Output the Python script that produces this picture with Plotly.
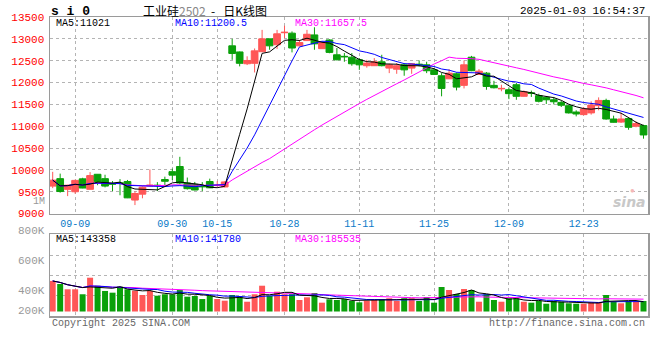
import plotly.graph_objects as go
import pandas as pd

dates = ["09-04", "09-05", "09-06", "09-09", "09-10", "09-11", "09-12", "09-13",
         "09-18", "09-19", "09-20", "09-23", "09-24", "09-25", "09-26", "09-27",
         "09-30", "10-08", "10-09", "10-10", "10-11", "10-14", "10-15", "10-16",
         "10-17", "10-18", "10-21", "10-22", "10-23", "10-24", "10-25", "10-28",
         "10-29", "10-30", "10-31", "11-01", "11-04", "11-05", "11-06", "11-07",
         "11-08", "11-11", "11-12", "11-13", "11-14", "11-15", "11-18", "11-19",
         "11-20", "11-21", "11-22", "11-25", "11-26", "11-27", "11-28", "11-29",
         "12-02", "12-03", "12-04", "12-05", "12-06", "12-09", "12-10", "12-11",
         "12-12", "12-13", "12-16", "12-17", "12-18", "12-19", "12-20", "12-23",
         "12-24", "12-25", "12-26", "12-27", "12-30", "12-31", "01-02", "01-03"]

open_ = [9629, 9800, 9555, 9500, 9795, 9555, 9900, 9800, 9690, 9705,
         9735, 9310, 9445, 9630, 9650, 9780, 9960, 10078, 9700, 9670,
         9625, 9735, 9640, 9610, 12840, 12700, 12430, 12440, 12705, 13000,
         12865, 13140, 13130, 12840, 12960, 13090, 12775, 12975, 12635, 12600,
         12580, 12520, 12385, 12385, 12475, 12330, 12305, 12405, 12330, 12420,
         12405, 12290, 12155, 12085, 12200, 11935, 12580, 12185, 12215, 11935,
         11855, 11835, 11950, 11685, 11765, 11700, 11660, 11605, 11545, 11470,
         11325, 11265, 11305, 11470, 11590, 11165, 11095, 11175, 11000, 11015]
high = [9956, 9915, 9660, 9775, 9820, 9950, 9905, 9890, 9745, 9790,
        9770, 9510, 9620, 10010, 9720, 9845, 10030, 10300, 9825, 9725,
        9720, 9800, 9740, 9740, 13000, 12710, 12600, 12780, 13205, 13000,
        13205, 13300, 13170, 12975, 13205, 13265, 12930, 12990, 12790, 12675,
        12675, 12560, 12520, 12560, 12635, 12430, 12445, 12445, 12445, 12505,
        12475, 12330, 12215, 12307, 12230, 12505, 12610, 12307, 12240, 12040,
        11950, 11890, 11990, 11820, 11815, 11745, 11685, 11670, 11585, 11485,
        11365, 11440, 11570, 11660, 11630, 11242, 11305, 11210, 11110, 11035]
low = [9583, 9480, 9400, 9455, 9580, 9550, 9650, 9600, 9515, 9420,
       9355, 9195, 9350, 9625, 9515, 9650, 9770, 9670, 9550, 9535,
       9515, 9585, 9620, 9600, 12520, 12370, 12400, 12230, 12700, 12750,
       12770, 13015, 12690, 12830, 12950, 12750, 12770, 12670, 12510, 12475,
       12385, 12290, 12340, 12380, 12370, 12215, 12200, 12155, 12200, 12370,
       12215, 12180, 11685, 12080, 11820, 11865, 12260, 12180, 11835, 11865,
       11800, 11620, 11605, 11680, 11670, 11545, 11510, 11500, 11440, 11290,
       11225, 11250, 11265, 11365, 11150, 11085, 11075, 10920, 10975, 10715]
close = [9766, 9505, 9650, 9760, 9585, 9870, 9735, 9630, 9675, 9690,
         9360, 9460, 9605, 9650, 9640, 9740, 9880, 9700, 9570, 9540,
         9615, 9590, 9650, 9725, 12665, 12440, 12505, 12725, 13000, 12840,
         13115, 13150, 12790, 12915, 13105, 12885, 12915, 12690, 12520, 12590,
         12430, 12405, 12445, 12475, 12385, 12405, 12385, 12290, 12430, 12405,
         12270, 12185, 11865, 12215, 11895, 12405, 12270, 12260, 11910, 11880,
         11865, 11745, 11685, 11790, 11750, 11570, 11605, 11560, 11480, 11305,
         11280, 11395, 11485, 11590, 11165, 11090, 11165, 10975, 11060, 10800]
volume_k = [443, 399, 322, 322, 250, 490, 374, 298, 273, 360,
            322, 302, 239, 298, 229, 250, 250, 312, 215, 225,
            181, 229, 181, 157, 239, 220, 142, 250, 374, 229,
            287, 250, 250, 167, 206, 268, 128, 177, 167, 181,
            153, 133, 157, 167, 181, 192, 153, 192, 192, 153,
            210, 128, 355, 312, 254, 326, 312, 142, 250, 167,
            142, 192, 192, 142, 128, 153, 113, 153, 142, 119,
            113, 113, 133, 137, 239, 142, 119, 153, 142, 153]

tick_dates = ["09-09", "09-30", "10-15", "10-28", "11-11", "11-25", "12-09", "12-23"]
price_ticks = [9000, 9500, 10000, 10500, 11000, 11500, 12000, 12500, 13000, 13500]
vol_labels = ["1M", "800K", "600K", "400K", "200K"]

RED = "#ff5757"
GREEN = "#0aa00a"
GRID = "#b4b4b4"
FRAME = "#9a9a9a"
MONO = "Liberation Mono, DejaVu Sans Mono, monospace"

df = pd.DataFrame({"d": dates, "o": open_, "h": high, "l": low, "c": close,
                   "v": [v * 1000 for v in volume_k]})
ma5 = df["c"].rolling(5, min_periods=1).mean()
ma10 = df["c"].rolling(10, min_periods=1).mean()
ma30 = df["c"].rolling(30, min_periods=1).mean()
vma5 = df["v"].rolling(5, min_periods=1).mean()
vma10 = df["v"].rolling(10, min_periods=1).mean()
vma30 = df["v"].rolling(30, min_periods=1).mean()
colors = [RED if c >= o else GREEN for o, c in zip(open_, close)]

fig = go.Figure()
fig.add_trace(go.Candlestick(
    x=dates, open=open_, high=high, low=low, close=close,
    increasing=dict(line=dict(color=RED, width=1), fillcolor=RED),
    decreasing=dict(line=dict(color=GREEN, width=1), fillcolor=GREEN),
    whiskerwidth=0, xaxis="x", yaxis="y", showlegend=False, hoverinfo="skip"))
for s, col in [(ma30, "#ff00ff"), (ma10, "#0000ff"), (ma5, "#000000")]:
    fig.add_trace(go.Scatter(x=dates, y=s, mode="lines", line=dict(color=col, width=1),
                             xaxis="x", yaxis="y", showlegend=False, hoverinfo="skip"))

fig.add_trace(go.Bar(x=dates, y=df["v"], marker=dict(color=colors, line=dict(width=0)),
                     width=0.8, xaxis="x2", yaxis="y2", showlegend=False, hoverinfo="skip"))
for s, col in [(vma30, "#ff00ff"), (vma10, "#0000ff"), (vma5, "#000000")]:
    fig.add_trace(go.Scatter(x=dates, y=s, mode="lines", line=dict(color=col, width=1),
                             xaxis="x2", yaxis="y2", showlegend=False, hoverinfo="skip"))

W, H = 660, 360
mt, mb = 17, 44
ph = H - mt - mb


def yp(px):
    return (H - mb - px) / ph


xrange_ = [-0.36, 79.6]
common_x = dict(type="category", range=xrange_, tickvals=tick_dates, ticktext=tick_dates,
                showgrid=True, gridcolor=GRID, griddash="dot", gridwidth=1,
                showline=True, mirror=True, linecolor=FRAME, linewidth=1.5,
                ticks="", zeroline=False, fixedrange=True)
fig.update_layout(
    width=W, height=H, margin=dict(l=50, r=10, t=mt, b=mb),
    paper_bgcolor="white", plot_bgcolor="white",
    font=dict(family=MONO, size=10, color="#000"),
    bargap=0.2, boxgap=0.1, boxgroupgap=0,
    xaxis=dict(common_x, anchor="y", domain=[0, 1],
               tickfont=dict(color="#0a7ac8", size=10, family=MONO),
               rangeslider=dict(visible=False)),
    yaxis=dict(domain=[yp(213.6), 1], range=[9000, 13500], tickvals=price_ticks,
               ticktext=[str(v) for v in price_ticks],
               tickfont=dict(color="#ff0000", size=11, family=MONO),
               showgrid=True, gridcolor=GRID, griddash="dot",
               showline=True, mirror=True, linecolor=FRAME, linewidth=1.5,
               ticks="", zeroline=False, ticklabelstandoff=2, fixedrange=True),
    xaxis2=dict(common_x, anchor="y2", domain=[0, 1], showticklabels=False, matches="x"),
    yaxis2=dict(domain=[0, yp(234.3)], range=[-65000, 1119000],
                tickvals=[235000, 519000, 819000], showticklabels=False,
                showgrid=True, gridcolor=GRID, griddash="dot",
                showline=True, mirror=True, linecolor=FRAME, linewidth=1.5,
                ticks="", zeroline=False, fixedrange=True),
)

ann = []


def txt(x, y, s, color="#000", size=10, anchor="left", family=MONO, **kw):
    ann.append(dict(xref="paper", yref="paper", x=(x - 50) / 600, y=yp(y), text=s,
                    showarrow=False, xanchor=anchor, yanchor="middle",
                    font=dict(color=color, size=size, family=family), **kw))


txt(49, 11, "<b>s i 0</b>", size=13)
txt(141, 10, "工业硅<span style='color:#888'>2502</span>&nbsp;&nbsp;-&nbsp;&nbsp;&nbsp;日K线图",
    size=12, anchor="left", family="Noto Sans CJK SC, " + MONO)
txt(649, 11, "2025-01-03 16:54:37", size=11, anchor="right")
txt(54, 24, "MA5:11021", size=10)
txt(173, 24, "MA10:11200.5", color="#0000ff", size=10)
txt(294, 24, "MA30:11657.5", color="#ff00ff", size=10)
txt(54, 240, "MA5:143358", size=10)
txt(173, 240, "MA10:141780", color="#0000ff", size=10)
txt(294, 240, "MA30:185535", color="#ff00ff", size=10)
for lab, y in zip(vol_labels, [201, 230.7, 260.7, 290.7, 311]):
    txt(47, y, lab, color="#999999", size=10 if lab == "1M" else 11, anchor="right")
txt(50, 323, "Copyright 2025 SINA.COM", color="#666666", size=10)
txt(649, 323, "http://finance.sina.com.cn", color="#666666", size=10, anchor="right")
txt(650, 202, "<b><i>sina</i></b>", color="#c8c8c8", size=14, anchor="right",
    family="DejaVu Sans, sans-serif")
txt(634, 190, "●", color="#f4b8b8", size=8, anchor="center")
fig.update_layout(annotations=ann)

fig.write_html("out.html", config={"displayModeBar": False, "staticPlot": True},
               post_script="document.body.style.margin='0';")
